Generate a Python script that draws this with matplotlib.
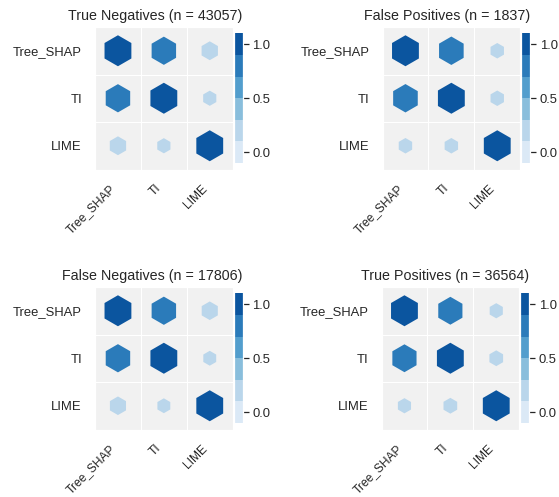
import numpy as np
import matplotlib
matplotlib.use("Agg")
import matplotlib.pyplot as plt
import seaborn as sns

# Attribution methods compared in every panel
methods = ["Tree_SHAP", "TI", "LIME"]

# Panel titles (confusion-matrix group and sample count)
titles = [
    "True Negatives (n = 43057)",
    "False Positives (n = 1837)",
    "False Negatives (n = 17806)",
    "True Positives (n = 36564)",
]

# Off-diagonal correlations per group:
# (Tree_SHAP, TI), (Tree_SHAP, LIME), (TI, LIME)
corr_tn = [0.83, 0.37, 0.24]
corr_fp = [0.84, 0.25, 0.25]
corr_fn = [0.83, 0.36, 0.23]
corr_tp = [0.81, 0.24, 0.26]
panel_corrs = [corr_tn, corr_fp, corr_fn, corr_tp]

color_range = [0.0, 1.0]
size_range = [0.0, 1.0]
n_colors = 6
size_scale = 961


def corr_matrix(pairs):
    m = np.eye(len(methods))
    idx = [(0, 1), (0, 2), (1, 2)]
    for (i, j), v in zip(idx, pairs):
        m[i, j] = m[j, i] = v
    return m


sns.set_theme(style="darkgrid", context="notebook")
plt.rcParams["font.family"] = ["Liberation Sans", "DejaVu Sans"]

palette = sns.color_palette("Blues", n_colors)


def value_to_color(val):
    pos = (val - color_range[0]) / (color_range[1] - color_range[0])
    pos = min(max(pos, 0), 1)
    return palette[int(pos * (n_colors - 1))]


def value_to_size(val):
    pos = (val - size_range[0]) / (size_range[1] - size_range[0])
    return pos * size_scale


W, H = 559, 497
fig = plt.figure(figsize=(W / 72, H / 72), dpi=72)

# panel anchors in pixels (left, top) of the main heatmap area
anchors = [(95, 27), (382.5, 27), (95, 287), (381.5, 287)]
hw, hh = 137.7, 142.5
cb_gap, cb_w = 0.9, 9.0

ytick_fs = 13
xtick_fs = 12
title_fs = 14.2

for (left, top), title, pairs in zip(anchors, titles, panel_corrs):
    m = corr_matrix(pairs)
    bottom = H - top - hh
    ax = fig.add_axes([left / W, bottom / H, hw / W, hh / H])
    cax = fig.add_axes([(left + hw + cb_gap) / W, bottom / H, cb_w / W, hh / H])

    n = len(methods)
    xs, ys, vals = [], [], []
    for r, rname in enumerate(methods):
        for c, cname in enumerate(methods):
            xs.append(c)
            ys.append(n - 1 - r)
            vals.append(m[r, c])

    ax.scatter(xs, ys, marker="h",
               s=[value_to_size(abs(v)) for v in vals],
               c=[value_to_color(v) for v in vals],
               linewidths=0)

    ax.set_xticks(range(n))
    ax.set_xticklabels(methods, rotation=45, horizontalalignment="right",
                       fontsize=xtick_fs)
    ax.set_yticks(range(n))
    ax.set_yticklabels(methods[::-1], fontsize=ytick_fs)
    ax.tick_params(axis="both", which="major", pad=7)
    ax.grid(False, "major")
    ax.grid(True, "minor")
    ax.set_xticks([t + 0.5 for t in range(n)], minor=True)
    ax.set_yticks([t + 0.5 for t in range(n)], minor=True)
    ax.set_xlim(-0.5, n - 0.5)
    ax.set_ylim(-0.5, n - 0.5)
    ax.set_facecolor("#F1F1F1")

    # discrete colour legend
    bar_y = np.linspace(color_range[0], color_range[1], n_colors)
    bar_h = bar_y[1] - bar_y[0]
    cax.barh(y=bar_y, width=[5] * n_colors, left=[0] * n_colors,
             height=bar_h, color=palette, linewidth=0)
    cax.set_xlim(1, 2)
    cax.grid(False)
    cax.set_facecolor("white")
    cax.set_xticks([])
    cax.set_yticks(np.linspace(bar_y.min(), bar_y.max(), 3))
    cax.yaxis.tick_right()
    cax.tick_params(axis="y", labelsize=ytick_fs)

    cax.set_title(title, loc="right", fontsize=title_fs, pad=7)

fig.savefig("out.png", dpi=72)
